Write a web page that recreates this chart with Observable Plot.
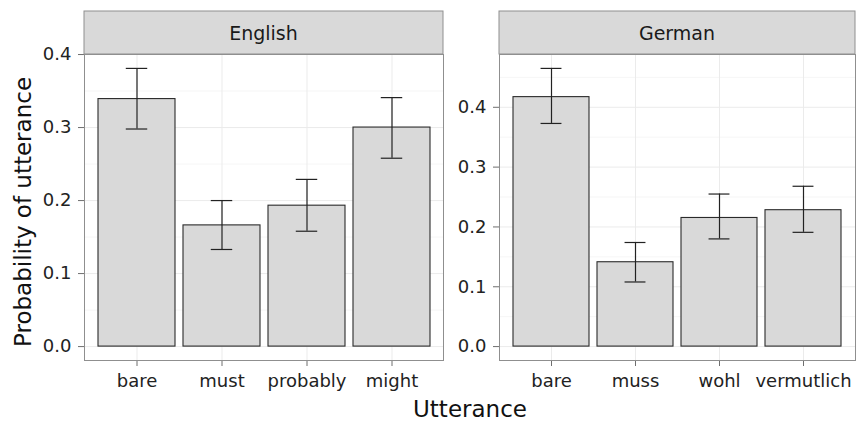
<!DOCTYPE html>
<html><head><meta charset="utf-8">
<script src="https://cdn.jsdelivr.net/npm/d3@7"></script>
<script src="https://cdn.jsdelivr.net/npm/@observablehq/plot@0.6"></script>
<style>
body{margin:0;background:#fff;}
#wrap{position:relative;width:856px;height:421px;overflow:hidden;font-family:"DejaVu Sans",sans-serif;}
#wrap svg{position:absolute;top:0;}
g[aria-label^="x-axis"] line, g[aria-label^="y-axis"] line,
g[aria-label="x-axis tick"] path, g[aria-label="y-axis tick"] path {stroke:#6e6e6e;}
</style></head><body><div id="wrap"></div>
<script>
// ---- data ----
const englishCats = ["bare", "must", "probably", "might"];
const englishMean = [0.339, 0.166, 0.193, 0.300];
const englishLow  = [0.298, 0.133, 0.158, 0.258];
const englishHigh = [0.381, 0.200, 0.229, 0.341];

const germanCats = ["bare", "muss", "wohl", "vermutlich"];
const germanMean = [0.417, 0.141, 0.215, 0.228];
const germanLow  = [0.373, 0.108, 0.180, 0.191];
const germanHigh = [0.465, 0.174, 0.255, 0.268];

const yTicks = [0, 0.1, 0.2, 0.3, 0.4];
const facetLabels = ["English", "German"];
const xTitle = "Utterance";
const yTitle = "Probability of utterance";

function panel(cats, mean, lo, hi, o) {
  const data = cats.map((c, i) => ({cat: c, mean: mean[i], lo: lo[i], hi: hi[i]}));
  const ymax = d3.max(hi), ymin = 0, r = ymax - ymin;
  const domain = [ymin - 0.05 * r, ymax + 0.05 * r];
  const plotW = o.width - o.marginLeft - o.marginRight;
  const step = plotW / (cats.length - 0.1 + 2 * 0.15);
  const capInset = step * (0.9 - 0.25) / 2;
  const minor = d3.range(0.05, domain[1], 0.1);
  const major = yTicks.filter(t => t <= domain[1]);
  return Plot.plot({
    width: o.width, height: 421,
    marginLeft: o.marginLeft, marginRight: o.marginRight, marginTop: 54, marginBottom: 61,
    style: {fontFamily: "DejaVu Sans", fontSize: "18px", color: "#222222", background: "transparent"},
    x: {domain: cats, paddingInner: 0.1, paddingOuter: 0.15, tickSize: 6, tickPadding: 8, label: null},
    y: {domain, ticks: major, tickFormat: d3.format(".1f"), tickSize: 6, tickPadding: 7, label: null},
    marks: [
      Plot.ruleY(minor, {stroke: "#f4f4f4", strokeWidth: 0.8}),
      Plot.ruleY(major, {stroke: "#ebebeb", strokeWidth: 1}),
      Plot.ruleX(cats, {x: d => d, stroke: "#ebebeb", strokeWidth: 1}),
      Plot.barY(data, {x: "cat", y: "mean", fill: "#d9d9d9", stroke: "#2a2a2a", strokeWidth: 1.1}),
      Plot.ruleX(data, {x: "cat", y1: "lo", y2: "hi", stroke: "#222222", strokeWidth: 1.2}),
      Plot.tickY(data, {x: "cat", y: "hi", insetLeft: capInset, insetRight: capInset, stroke: "#222222", strokeWidth: 1.2}),
      Plot.tickY(data, {x: "cat", y: "lo", insetLeft: capInset, insetRight: capInset, stroke: "#222222", strokeWidth: 1.2}),
      Plot.frame({stroke: "#8f8f8f", strokeWidth: 1})
    ]
  });
}

const wrap = document.getElementById("wrap");
const p1 = panel(englishCats, englishMean, englishLow, englishHigh, {width: 450, marginLeft: 84, marginRight: 7});
p1.style.left = "0px";
wrap.appendChild(p1);
const p2 = panel(germanCats, germanMean, germanLow, germanHigh, {width: 406, marginLeft: 49, marginRight: 1});
p2.style.left = "450px";
wrap.appendChild(p2);

// strips & titles overlay
const ov = d3.create("svg").attr("width", 856).attr("height", 421)
  .style("left", "0px").style("pointer-events", "none")
  .style("font-family", "DejaVu Sans");
const strips = [{x: 84, w: 359}, {x: 499, w: 356}];
strips.forEach((s, i) => {
  ov.append("rect").attr("x", s.x).attr("y", 11).attr("width", s.w).attr("height", 43)
    .attr("fill", "#d9d9d9").attr("stroke", "#8f8f8f").attr("stroke-width", 1);
  ov.append("text").attr("x", s.x + s.w / 2).attr("y", 40).attr("text-anchor", "middle")
    .attr("font-size", 19).attr("fill", "#1a1a1a").text(facetLabels[i]);
});
ov.append("text").attr("transform", "translate(31,212) rotate(-90)").attr("text-anchor", "middle")
  .attr("font-size", 23).attr("fill", "#111").text(yTitle);
ov.append("text").attr("x", 470).attr("y", 417).attr("text-anchor", "middle")
  .attr("font-size", 23).attr("fill", "#111").text(xTitle);
wrap.appendChild(ov.node());
</script></body></html>
